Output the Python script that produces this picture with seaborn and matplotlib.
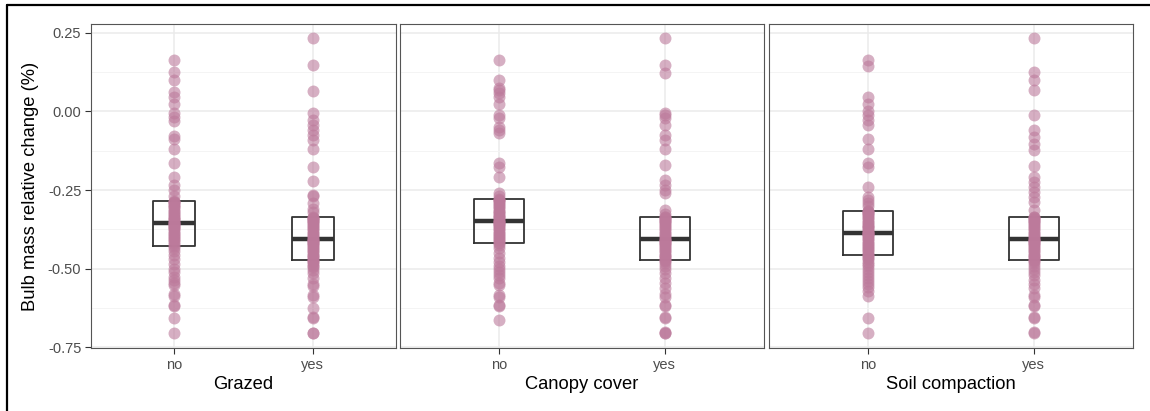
import numpy as np
import pandas as pd
import matplotlib
matplotlib.use("Agg")
import matplotlib.pyplot as plt
from matplotlib.lines import Line2D
import seaborn as sns

factors = ["Grazed", "Canopy cover", "Soil compaction"]
levels = ["no", "yes"]

# relative bulb mass change
grazed_no = [
    -0.705, -0.658, -0.62, -0.615, -0.587, -0.58, -0.552, -0.545, -0.535, -0.525,
    -0.51, -0.50, -0.485, -0.47, -0.455, -0.445, -0.435,
    -0.427,
    -0.42, -0.415, -0.41, -0.405, -0.40, -0.395, -0.39, -0.385, -0.38, -0.375,
    -0.37, -0.367, -0.363, -0.36, -0.358, -0.356,
    -0.355,
    -0.35, -0.346, -0.342, -0.338, -0.334, -0.33, -0.325, -0.32, -0.315, -0.31,
    -0.305, -0.30, -0.296, -0.292, -0.289, -0.287,
    -0.285,
    -0.27, -0.25, -0.234, -0.208, -0.165, -0.118, -0.086, -0.078, -0.03, -0.017,
    -0.006, 0.025, 0.047, 0.062, 0.10, 0.126, 0.165,
]
grazed_yes = [
    -0.705, -0.705, -0.658, -0.655, -0.625, -0.59, -0.585, -0.555, -0.55, -0.53,
    -0.515, -0.505, -0.495, -0.49, -0.485, -0.48, -0.476,
    -0.472,
    -0.468, -0.464, -0.46, -0.455, -0.45, -0.445, -0.44, -0.435, -0.43, -0.425,
    -0.42, -0.418, -0.415, -0.412, -0.41, -0.408,
    -0.406,
    -0.40, -0.395, -0.39, -0.385, -0.38, -0.375, -0.37, -0.365, -0.36, -0.355,
    -0.35, -0.348, -0.345, -0.342, -0.34, -0.338,
    -0.337,
    -0.32, -0.31, -0.29, -0.268, -0.265, -0.221, -0.176, -0.118, -0.091, -0.075,
    -0.059, -0.043, -0.028, -0.006, 0.065, 0.147, 0.232,
]
canopy_no = [
    -0.663, -0.619, -0.615, -0.589, -0.585, -0.552, -0.545, -0.53, -0.52, -0.51,
    -0.50, -0.49, -0.48, -0.465, -0.45, -0.435, -0.425,
    -0.418,
    -0.414, -0.41, -0.405, -0.40, -0.395, -0.39, -0.385, -0.38, -0.375, -0.37,
    -0.365, -0.36, -0.357, -0.354, -0.352, -0.35,
    -0.349,
    -0.345, -0.34, -0.336, -0.332, -0.328, -0.324, -0.32, -0.315, -0.31, -0.305,
    -0.30, -0.295, -0.29, -0.286, -0.283, -0.281,
    -0.279,
    -0.27, -0.26, -0.208, -0.176, -0.165, -0.07, -0.06, -0.049, -0.022, -0.012,
    0.025, 0.047, 0.059, 0.068, 0.075, 0.10, 0.165,
]
canopy_yes = [
    -0.705, -0.705, -0.70, -0.658, -0.655, -0.62, -0.615, -0.589, -0.58, -0.56,
    -0.545, -0.53, -0.515, -0.50, -0.49, -0.482, -0.476,
    -0.472,
    -0.468, -0.464, -0.46, -0.455, -0.45, -0.445, -0.44, -0.435, -0.43, -0.425,
    -0.42, -0.418, -0.415, -0.412, -0.41, -0.408,
    -0.405,
    -0.40, -0.395, -0.39, -0.385, -0.38, -0.375, -0.37, -0.365, -0.36, -0.355,
    -0.35, -0.347, -0.344, -0.341, -0.339, -0.337,
    -0.336,
    -0.325, -0.313, -0.26, -0.25, -0.234, -0.218, -0.171, -0.118, -0.091, -0.075,
    -0.043, -0.022, -0.012, -0.005, 0.123, 0.147, 0.232,
]
soil_no = [
    -0.705, -0.658, -0.587, -0.57, -0.557, -0.55, -0.54, -0.53, -0.52, -0.51,
    -0.50, -0.49, -0.485, -0.48, -0.47, -0.465, -0.46,
    -0.457,
    -0.452, -0.447, -0.442, -0.437, -0.432, -0.427, -0.422, -0.417, -0.412, -0.407,
    -0.402, -0.397, -0.393, -0.39, -0.388, -0.386,
    -0.385,
    -0.38, -0.376, -0.372, -0.368, -0.364, -0.36, -0.355, -0.35, -0.345, -0.34,
    -0.335, -0.33, -0.326, -0.322, -0.32, -0.318,
    -0.317,
    -0.30, -0.29, -0.282, -0.271, -0.239, -0.176, -0.165, -0.118, -0.086, -0.043,
    -0.028, -0.012, 0.0, 0.025, 0.047, 0.145, 0.165,
]
soil_yes = [
    -0.705, -0.70, -0.658, -0.655, -0.62, -0.615, -0.589, -0.585, -0.56, -0.55,
    -0.535, -0.52, -0.51, -0.50, -0.49, -0.482, -0.476,
    -0.472,
    -0.468, -0.464, -0.46, -0.455, -0.45, -0.445, -0.44, -0.435, -0.43, -0.425,
    -0.42, -0.418, -0.415, -0.412, -0.41, -0.408,
    -0.405,
    -0.40, -0.395, -0.39, -0.385, -0.38, -0.375, -0.37, -0.365, -0.36, -0.355,
    -0.35, -0.347, -0.344, -0.341, -0.339, -0.337,
    -0.336,
    -0.313, -0.287, -0.271, -0.255, -0.239, -0.224, -0.208, -0.174, -0.123, -0.102,
    -0.081, -0.059, -0.012, 0.068, 0.10, 0.126, 0.232,
]

groups = {
    "Grazed": (grazed_no, grazed_yes),
    "Canopy cover": (canopy_no, canopy_yes),
    "Soil compaction": (soil_no, soil_yes),
}

rows = []
for factor in factors:
    for lev, vals in zip(levels, groups[factor]):
        for v in vals:
            rows.append((factor, lev, v))
df = pd.DataFrame(rows, columns=["factor", "level", "change"])

sns.set_theme(style="white")
plt.rcParams["font.family"] = ["Liberation Sans", "DejaVu Sans"]

point_col = "#BC7A9B"
dark = "#333333"

fig = plt.figure(figsize=(11.5, 4.11), dpi=100)
boxes = [
    (91 / 1150, 396 / 1150),
    (400 / 1150, 764 / 1150),
    (769 / 1150, 1133 / 1150),
]
bottom = 1 - 348 / 411
height = (348 - 24) / 411

for i, factor in enumerate(factors):
    l, r = boxes[i]
    ax = fig.add_axes([l, bottom, r - l, height])
    sub = df[df["factor"] == factor]
    sns.stripplot(data=sub, x="level", y="change", order=levels, jitter=False,
                  color=point_col, alpha=0.6, size=8.6, linewidth=0, ax=ax)
    sns.boxplot(data=sub, x="level", y="change", order=levels, width=0.3,
                whis=0, showfliers=False, showcaps=False, fill=False,
                color=dark, linewidth=1.3,
                medianprops={"linewidth": 3.2}, ax=ax)

    ax.set_xlim(-0.6, 1.6)
    ax.set_ylim(-0.752, 0.278)
    ax.set_yticks([0.25, 0.0, -0.25, -0.5, -0.75])
    ax.set_yticklabels(["0.25", "0.00", "-0.25", "-0.50", "-0.75"])
    ax.set_yticks([0.125, -0.125, -0.375, -0.625], minor=True)
    ax.set_axisbelow(True)
    ax.grid(which="major", color="#EBEBEB", linewidth=1.1)
    ax.grid(which="minor", axis="y", color="#F3F3F3", linewidth=0.6)
    for s in ax.spines.values():
        s.set_color("#555555")
        s.set_linewidth(0.8)
    ax.tick_params(which="major", length=4, width=0.8, color=dark,
                   labelcolor="#4D4D4D", labelsize=10.5, pad=3,
                   bottom=True, left=True)
    ax.tick_params(which="minor", length=0)
    ax.set_xlabel(factor, fontsize=13.2, color="black", labelpad=3)
    if i == 0:
        ax.set_ylabel("Bulb mass relative change (%)", fontsize=13.2,
                      color="black", labelpad=6)
    else:
        ax.set_ylabel("")
        ax.tick_params(axis="y", left=False, labelleft=False)

# outer frame visible at left and top
fig.add_artist(Line2D([6.5 / 1150, 6.5 / 1150], [0, 1 - 5.5 / 411],
                      color="black", linewidth=1.6))
fig.add_artist(Line2D([6.5 / 1150, 1], [1 - 5.5 / 411, 1 - 5.5 / 411],
                      color="black", linewidth=1.6))

fig.savefig("out.png", dpi=100)
